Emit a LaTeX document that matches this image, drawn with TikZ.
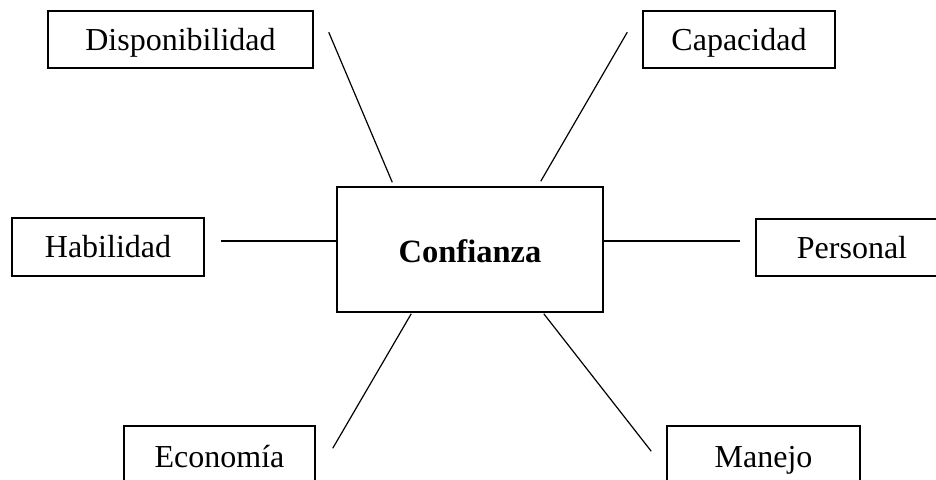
\documentclass[tikz,border=0pt]{standalone}
\usepackage{fontspec}
\setmainfont{Liberation Serif}
\usetikzlibrary{calc}
\begin{document}
\begin{tikzpicture}[x=1pt,y=-1pt,
  box/.style={draw, line width=1.5pt, inner sep=0pt, minimum height=57pt,
    text height=21pt, text depth=0pt, font=\fontsize{32}{36}\selectfont},
  hub/.style={box, minimum width=266pt, minimum height=125pt, font=\fontsize{32.5}{36}\selectfont\bfseries},
  link/.style={line width=1.2pt}]
\useasboundingbox (0,0) rectangle (936,479);
\clip (0,0) rectangle (936,479);

% central concept
\node[hub] (conf) at (470,249.5) {\raisebox{-2pt}{Confianza}};

% surrounding factors
\node[box, minimum width=265pt] (disp) at (180.5,39.5) {Disponibilidad};
\node[box, minimum width=192pt] (cap)  at (739,39.5)   {Capacidad};
\node[box, minimum width=192pt, minimum height=58pt] (hab) at (108,247) {Habilidad};
\node[box, minimum width=192pt] (pers) at (852,247.5)  {Personal};
\node[box, minimum width=191pt, minimum height=62pt] (eco) at (219.5,457) {Economía};
\node[box, minimum width=193pt, minimum height=62pt] (man) at (763.5,457) {Manejo};

% connectors, left free of the outer boxes
\draw[link] ($(disp.north east)+(15,22)$) -- ($(conf.north west)+(56,-4)$);
\draw[link] ($(cap.north west)+(-15,22)$) -- ($(conf.north east)+(-63,-5)$);
\draw[link] ($(hab.east)+(16,-6)$) -- ($(conf.west)+(0,-8.5)$);
\draw[link] ($(conf.east)+(0,-8.5)$) -- ($(pers.west)+(-15,-6.5)$);
\draw[link] ($(conf.south west)+(75,1)$) -- ($(eco.north east)+(17,23)$);
\draw[link] ($(conf.south east)+(-60,1)$) -- ($(man.north west)+(-15,26)$);
\end{tikzpicture}
\end{document}
